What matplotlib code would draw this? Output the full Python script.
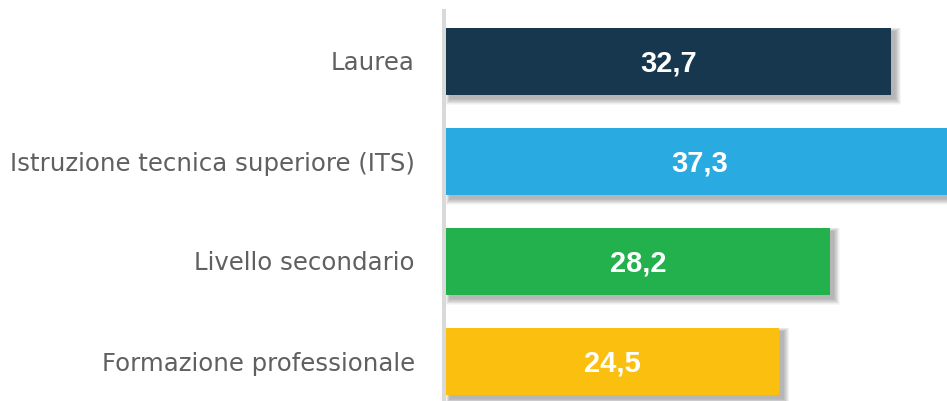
import matplotlib
matplotlib.use("Agg")
import matplotlib.pyplot as plt
from matplotlib.patches import Rectangle

categories = ["Laurea", "Istruzione tecnica superiore (ITS)",
              "Livello secondario", "Formazione professionale"]
values = [32.7, 37.3, 28.2, 24.5]
colors = ["#17374F", "#29ABE2", "#22B14C", "#FBBF10"]

W, H, DPI = 947, 401, 100
fig = plt.figure(figsize=(W / DPI, H / DPI), dpi=DPI)

# axes spans from x=446 px to the right edge; top at 11 px, extends below the figure
left_px, top_px, bottom_px = 446, 11, 411
ax = fig.add_axes([left_px / W, (H - bottom_px) / H,
                   (W - left_px) / W, (bottom_px - top_px) / H])

xmax = (W - left_px) / 13.6
ax.set_xlim(0, xmax)
ax.set_ylim(len(categories) - 0.5, -0.5)

bar_h = 0.67
px_x = xmax / (W - left_px)       # data units per pixel in x
px_y = 1.0 / 100                  # data units per pixel in y

# soft drop shadow made of stacked translucent rectangles
for i, v in enumerate(values):
    for k in range(1, 11):
        grow = k
        ax.add_patch(Rectangle((4 * px_x - grow * px_x * 0.4,
                                i - bar_h / 2 + 4 * px_y - grow * px_y * 0.4),
                               v + grow * px_x, bar_h + grow * px_y,
                               facecolor="#000000", alpha=0.03,
                               edgecolor="none", zorder=1))

ax.barh(range(len(values)), values, height=bar_h, color=colors, zorder=3)

for i, v in enumerate(values):
    ax.text(v / 2, i + 0.02, f"{v:.1f}".replace(".", ","), ha="center", va="center",
            color="white", fontsize=21, fontweight="bold",
            family="Liberation Sans", zorder=4)

ax.set_yticks(range(len(categories)))
ax.set_yticklabels(categories)
ax.tick_params(axis="y", length=0, pad=21, labelsize=17.6, labelcolor="#606060")
for lab in ax.get_yticklabels():
    lab.set_family("Open Sans")
ax.set_xticks([])

for s in ["top", "right", "bottom"]:
    ax.spines[s].set_visible(False)
ax.spines["left"].set_color("#D9D9D9")
ax.spines["left"].set_linewidth(4 * 72 / DPI)
ax.spines["left"].set_position(("outward", 2 * 72 / DPI))

fig.savefig("out.png", dpi=DPI)
